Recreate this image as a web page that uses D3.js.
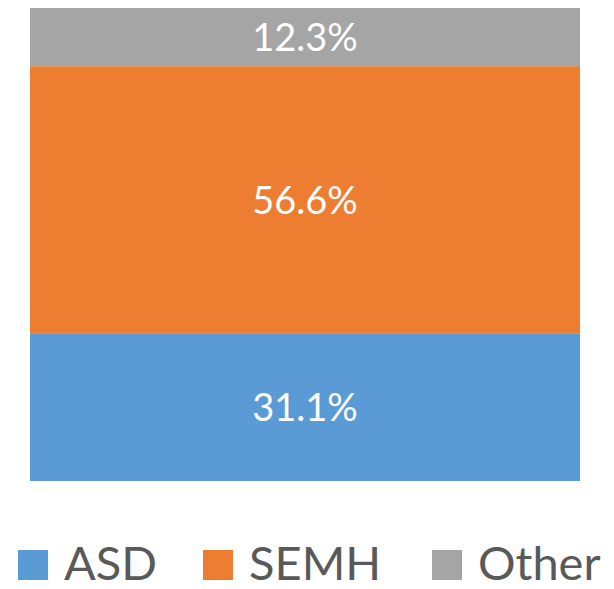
<!DOCTYPE html>
<html>
<head>
<meta charset="utf-8">
<script src="https://cdn.jsdelivr.net/npm/d3@7"></script>
<style>
  body { margin: 0; background: #fff; }
  svg { display: block; }
</style>
</head>
<body>
<div id="chart"></div>
<script>
const categories = ["ASD", "SEMH", "Other"];
const values = [31.1, 56.6, 12.3];
const colors = ["#5b9bd5", "#ed7d31", "#a5a5a5"];

const width = 614;
const height = 589;
const marginTop = 8;
const marginBottom = 108;
const marginLeft = 30;
const marginRight = 34;

const x = d3.scaleBand().domain(["all"]).range([marginLeft, width - marginRight]).padding(0);
const y = d3.scaleLinear().domain([0, d3.sum(values)]).range([height - marginBottom, marginTop]);

let acc = 0;
const stacked = categories.map((c, i) => {
  const d = { key: c, value: values[i], y0: acc, y1: acc + values[i], color: colors[i] };
  acc += values[i];
  return d;
});

const svg = d3.select("#chart")
  .append("svg")
  .attr("width", width)
  .attr("height", height)
  .attr("viewBox", [0, 0, width, height]);

svg.append("g")
  .selectAll("rect")
  .data(stacked)
  .join("rect")
  .attr("x", x("all"))
  .attr("width", x.bandwidth())
  .attr("y", (d) => y(d.y1))
  .attr("height", (d) => y(d.y0) - y(d.y1))
  .attr("fill", (d) => d.color);

svg.append("g")
  .selectAll("text")
  .data(stacked)
  .join("text")
  .attr("x", x("all") + x.bandwidth() / 2)
  .attr("y", (d) => (y(d.y0) + y(d.y1)) / 2)
  .attr("dy", "0.36em")
  .attr("text-anchor", "middle")
  .attr("fill", "#fff")
  .style("font-family", "Lato, 'Open Sans', sans-serif")
  .style("font-size", "38px")
  .text((d) => d.value.toFixed(1) + "%");

// legend
const legendX = [18, 203, 432];
const legend = svg.append("g")
  .selectAll("g")
  .data(stacked)
  .join("g")
  .attr("transform", (d, i) => `translate(${legendX[i]},550)`);
legend.append("rect")
  .attr("width", 30)
  .attr("height", 30)
  .attr("fill", (d) => d.color);
legend.append("text")
  .attr("x", 46)
  .attr("y", 30)
  .attr("fill", "#595959")
  .style("font-family", "Lato, 'Open Sans', sans-serif")
  .style("font-size", "47px")
  .text((d) => d.key);
</script>
</body>
</html>
